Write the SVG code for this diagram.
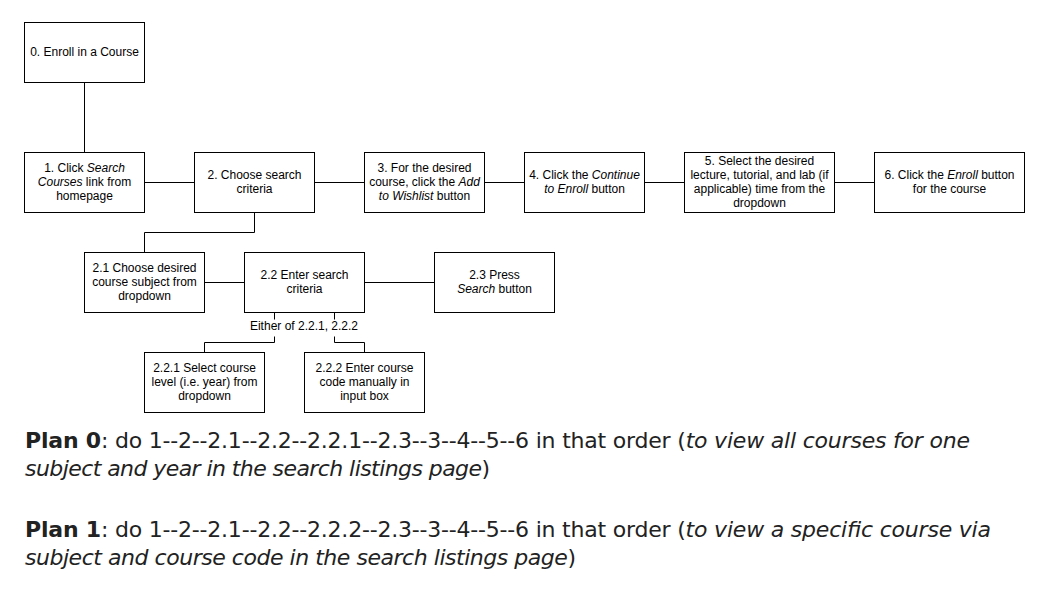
<svg xmlns="http://www.w3.org/2000/svg" width="1050" height="600" viewBox="0 0 1050 600">
<style>
.box{fill:#fff;stroke:#000;stroke-width:1}
.t{font-family:"Liberation Sans",Arial,Helvetica,sans-serif;font-size:12px;fill:#000;text-anchor:middle}
.i{font-style:italic}
.ln{fill:none;stroke:#000;stroke-width:1}
.plan{font-family:"DejaVu Sans","Liberation Sans",Arial,sans-serif;font-size:22px;fill:#222}
.b{font-weight:bold}
</style>
<rect width="1050" height="600" fill="#fff"/>
<g id="connectors">
<path class="ln" d="M84.5,82.5V152.5"/>
<path class="ln" d="M144.5,182.5H194.5"/>
<path class="ln" d="M314.5,182.5H364.5"/>
<path class="ln" d="M484.5,182.5H524.5"/>
<path class="ln" d="M644.5,182.5H684.5"/>
<path class="ln" d="M834.5,182.5H874.5"/>
<path class="ln" d="M254.5,212.5V232.5H144.5V252.5"/>
<path class="ln" d="M204.5,282.5H244.5"/>
<path class="ln" d="M364.5,282.5H434.5"/>
<path class="ln" d="M274.5,312.5V319.5"/>
<path class="ln" d="M334.5,312.5V319.5"/>
<path class="ln" d="M274.5,336.5V342.5H204.5V352.5"/>
<path class="ln" d="M334.5,336.5V342.5H364.5V352.5"/>
<text class="t" x="304" y="330">Either of 2.2.1, 2.2.2</text>
</g>
<g id="n0"><rect class="box" x="24.5" y="22.5" width="120" height="60"/><text class="t" x="84.5" y="56">0. Enroll in a Course</text></g>
<g id="n1"><rect class="box" x="24.5" y="152.5" width="120" height="60"/><text class="t" x="84.5" y="172">1. Click <tspan class="i">Search</tspan></text><text class="t" x="84.5" y="186"><tspan class="i">Courses</tspan> link from</text><text class="t" x="84.5" y="200">homepage</text></g>
<g id="n2"><rect class="box" x="194.5" y="152.5" width="120" height="60"/><text class="t" x="254.5" y="179">2. Choose search</text><text class="t" x="254.5" y="193">criteria</text></g>
<g id="n3"><rect class="box" x="364.5" y="152.5" width="120" height="60"/><text class="t" x="424.5" y="172">3. For the desired</text><text class="t" x="424.5" y="186">course, click the <tspan class="i">Add</tspan></text><text class="t" x="424.5" y="200"><tspan class="i">to Wishlist</tspan> button</text></g>
<g id="n4"><rect class="box" x="524.5" y="152.5" width="120" height="60"/><text class="t" x="584.5" y="179">4. Click the <tspan class="i">Continue</tspan></text><text class="t" x="584.5" y="193"><tspan class="i">to Enroll</tspan> button</text></g>
<g id="n5"><rect class="box" x="684.5" y="152.5" width="150" height="60"/><text class="t" x="759.5" y="165">5. Select the desired</text><text class="t" x="759.5" y="179">lecture, tutorial, and lab (if</text><text class="t" x="759.5" y="193">applicable) time from the</text><text class="t" x="759.5" y="207">dropdown</text></g>
<g id="n6"><rect class="box" x="874.5" y="152.5" width="150" height="60"/><text class="t" x="949.5" y="179">6. Click the <tspan class="i">Enroll</tspan> button</text><text class="t" x="949.5" y="193">for the course</text></g>
<g id="n21"><rect class="box" x="84.5" y="252.5" width="120" height="60"/><text class="t" x="144.5" y="272">2.1 Choose desired</text><text class="t" x="144.5" y="286">course subject from</text><text class="t" x="144.5" y="300">dropdown</text></g>
<g id="n22"><rect class="box" x="244.5" y="252.5" width="120" height="60"/><text class="t" x="304.5" y="279">2.2 Enter search</text><text class="t" x="304.5" y="293">criteria</text></g>
<g id="n23"><rect class="box" x="434.5" y="252.5" width="120" height="60"/><text class="t" x="494.5" y="279">2.3 Press</text><text class="t" x="494.5" y="293"><tspan class="i">Search</tspan> button</text></g>
<g id="n221"><rect class="box" x="144.5" y="352.5" width="120" height="60"/><text class="t" x="204.5" y="372">2.2.1 Select course</text><text class="t" x="204.5" y="386">level (i.e. year) from</text><text class="t" x="204.5" y="400">dropdown</text></g>
<g id="n222"><rect class="box" x="304.5" y="352.5" width="120" height="60"/><text class="t" x="364.5" y="372">2.2.2 Enter course</text><text class="t" x="364.5" y="386">code manually in</text><text class="t" x="364.5" y="400">input box</text></g>
<g id="plans">
<text class="plan" x="25" y="448" textLength="945" lengthAdjust="spacing"><tspan class="b">Plan 0</tspan>: do 1--2--2.1--2.2--2.2.1--2.3--3--4--5--6 in that order (<tspan class="i">to view all courses for one</tspan></text>
<text class="plan" x="25" y="476" textLength="465" lengthAdjust="spacing"><tspan class="i">subject and year in the search listings page</tspan>)</text>
<text class="plan" x="25" y="537" textLength="966" lengthAdjust="spacing"><tspan class="b">Plan 1</tspan>: do 1--2--2.1--2.2--2.2.2--2.3--3--4--5--6 in that order (<tspan class="i">to view a specific course via</tspan></text>
<text class="plan" x="25" y="565" textLength="551" lengthAdjust="spacing"><tspan class="i">subject and course code in the search listings page</tspan>)</text>
</g>
</svg>
